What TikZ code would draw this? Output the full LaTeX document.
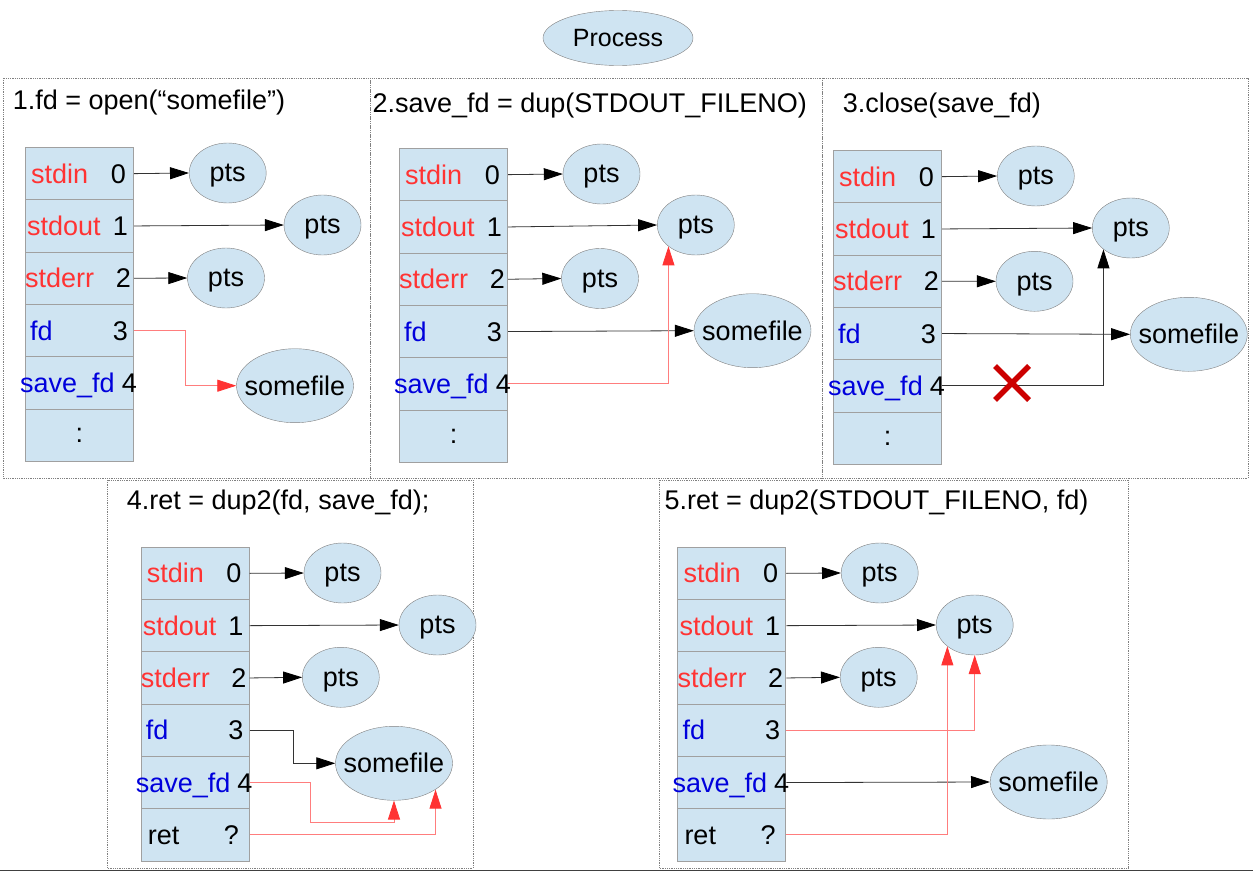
\documentclass[tikz,border=0pt]{standalone}
\usepackage{fontspec}
\setmainfont{Liberation Sans}
\usepackage{tikz}
\usetikzlibrary{shapes.geometric}
\usetikzlibrary{arrows.meta}

\definecolor{cellblue}{RGB}{207,228,242}
\definecolor{cellline}{RGB}{160,160,160}
\definecolor{fdred}{RGB}{255,51,51}
\definecolor{fdblue}{RGB}{0,0,220}
\definecolor{linkred}{RGB}{255,125,125}
\definecolor{crossred}{RGB}{204,0,0}

\tikzset{
  fdcell/.style={rectangle, draw=cellline, fill=cellblue, line width=1pt,
    minimum width=108, minimum height=52.3, anchor=north west, inner sep=0},
  fdname/.style={anchor=base west, inner sep=0},
  fdnum/.style={anchor=base east, inner sep=0},
  ptsnode/.style={ellipse, draw=gray, fill=cellblue, minimum width=77,
    minimum height=60, inner sep=0, text depth=0pt},
  filenode/.style={ellipse, draw=gray, fill=cellblue, minimum width=117,
    minimum height=74, inner xsep=-9, inner ysep=0},
  steptitle/.style={anchor=base west, inner sep=0},
  panel/.style={draw=gray, densely dotted, line width=0.8pt},
  ptr/.style={draw=black!80, line width=0.8pt, -{Triangle[length=19pt,width=12pt,color=black]}},
  redptr/.style={draw=linkred, line width=0.8pt, -{Triangle[length=19pt,width=12pt,color=fdred]}},
}

% one fd table, rows 0..5, top left at (#2,#3)
\newcommand{\fdtable}[3]{%
  \foreach \i/\lab/\clr/\lx/\nm/\nx in {0/stdin/fdred/6/0/101,1/stdout/fdred/2/1/103,
      2/stderr/fdred/0/2/106,3/fd/fdblue/5/3/103,4/save\_fd/fdblue/-5/4/112}{
    \node[fdcell] (#1r\i) at (#2,{#3+52.3*\i}) {};
    \node[fdname, text=\clr] (#1l\i) at ([xshift=\lx, yshift=-9.5]#1r\i.west) {\lab};
    \node[fdnum] (#1n\i) at ([xshift=\nx, yshift=-9.5]#1r\i.west) {\nm};
  }
  \node[fdcell] (#1r5) at (#2,{#3+52.3*5}) {};
}

\begin{document}
\begin{tikzpicture}[x=1pt, y=-1pt, font=\fontsize{27}{32}\selectfont]
    \useasboundingbox (0,0) rectangle (1253,872);
    \node[ptsnode, minimum width=150, minimum height=55, font=\fontsize{25}{30}\selectfont] (proc) at (618,38) {Process};

    % 1. open
    \draw[panel] (3,78) rectangle (370,478);
    \node[steptitle] (t1) at (12.7,109.5) {1.fd = open(“somefile”)};
    \fdtable{a}{25}{147}
    \node[inner sep=0] (adots) at (ar5) {:};
    \node[ptsnode] (ap0) at (227.7,173) {pts};
    \node[ptsnode] (ap1) at (322.5,225) {pts};
    \node[ptsnode] (ap2) at (226,278) {pts};
    \node[filenode] (af) at (295,385.7) {somefile};
    \draw[ptr] (ar0.east) -- (ap0.west);
    \draw[ptr] (ar1.east) -- (ap1.west);
    \draw[ptr] (ar2.east) -- (ap2.west);
    \draw[redptr] (ar3.east) -- ++(51,0) |- (af.west);

    % 2. dup
    \draw[panel] (370,78) rectangle (822,478);
    \node[steptitle] (t2) at (372.3,112.5) {2.save\_fd = dup(STDOUT\_FILENO)};
    \fdtable{b}{399}{148}
    \node[inner sep=0] (bdots) at (br5) {:};
    \node[ptsnode] (bp0) at (601.5,174) {pts};
    \node[ptsnode] (bp1) at (695.8,225) {pts};
    \node[ptsnode] (bp2) at (600,278.5) {pts};
    \node[filenode] (bf) at (752.5,330.7) {somefile};
    \draw[ptr] (br0.east) -- (bp0.west);
    \draw[ptr] (br1.east) -- (bp1.west);
    \draw[ptr] (br2.east) -- (bp2.west);
    \draw[ptr] (br3.east) -- (bf.west);
    \draw[redptr] (br4.east) -| (bp1.south west);

    % 3. close
    \draw[panel] (822,78) rectangle (1248,478);
    \node[steptitle] (t3) at (842.7,112.5) {3.close(save\_fd)};
    \fdtable{c}{833}{150}
    \node[inner sep=0] (cdots) at (cr5) {:};
    \node[ptsnode] (cp0) at (1035.8,176) {pts};
    \node[ptsnode] (cp1) at (1130.8,228) {pts};
    \node[ptsnode] (cp2) at (1034.5,281.3) {pts};
    \node[filenode] (cf) at (1188.8,334.3) {somefile};
    \draw[ptr] (cr0.east) -- (cp0.west);
    \draw[ptr] (cr1.east) -- (cp1.west);
    \draw[ptr] (cr2.east) -- (cp2.west);
    \draw[ptr] (cr3.east) -- (cf.west);
    \draw[ptr] (cr4.east) -| (cp1.south west);
    \coordinate (cx) at (1012,383);
    \draw[crossred, line width=5.5pt] (cx) +(-17,-17) -- +(17,17) (cx) +(-17,17) -- +(17,-17);

    % 4. dup2(fd, save_fd)
    \draw[panel] (107,480) rectangle (473,868);
    \node[steptitle] (t4) at (126.7,509.5) {4.ret = dup2(fd, save\_fd);};
    \fdtable{d}{140.7}{546.7}
    \node[fdname] (dret) at ([xshift=7, yshift=-9.5]dr5.west) {ret};
    \node[fdnum] (dq) at ([xshift=98.5, yshift=-9.5]dr5.west) {?};
    \node[ptsnode] (dp0) at (342.5,573) {pts};
    \node[ptsnode] (dp1) at (437.5,625) {pts};
    \node[ptsnode] (dp2) at (340.8,677.3) {pts};
    \node[filenode] (df) at (394,763.3) {somefile};
    \draw[ptr] (dr0.east) -- (dp0.west);
    \draw[ptr] (dr1.east) -- (dp1.west);
    \draw[ptr] (dr2.east) -- (dp2.west);
    \draw[ptr] (dr3.east) -- ++(44,0) |- (df.west);
    \draw[redptr] (dr4.east) -- ++(61,0) -- ++(0,40) -| (df.south);
    \draw[redptr] (dr5.east) -| (df.south east);

    % 5. dup2(STDOUT_FILENO, fd)
    \draw[panel] (659,480) rectangle (1128,868);
    \node[steptitle] (t5) at (664.3,509.5) {5.ret = dup2(STDOUT\_FILENO, fd)};
    \fdtable{e}{677.3}{546.7}
    \node[fdname] (eret) at ([xshift=7, yshift=-9.5]er5.west) {ret};
    \node[fdnum] (eq) at ([xshift=98.5, yshift=-9.5]er5.west) {?};
    \node[ptsnode] (ep0) at (879.7,573) {pts};
    \node[ptsnode] (ep1) at (974.7,625) {pts};
    \node[ptsnode] (ep2) at (878.7,677.3) {pts};
    \node[filenode] (ef) at (1048.7,782) {somefile};
    \draw[ptr] (er0.east) -- (ep0.west);
    \draw[ptr] (er1.east) -- (ep1.west);
    \draw[ptr] (er2.east) -- (ep2.west);
    \draw[redptr] (er3.east) -| (ep1.south);
    \draw[ptr] (er4.east) -- (ef.west);
    \draw[redptr] (er5.east) -| (ep1.south west);

    \draw[black!75, line width=1.5pt] (0,870.5) -- (1253,870.5);
\end{tikzpicture}
\end{document}
